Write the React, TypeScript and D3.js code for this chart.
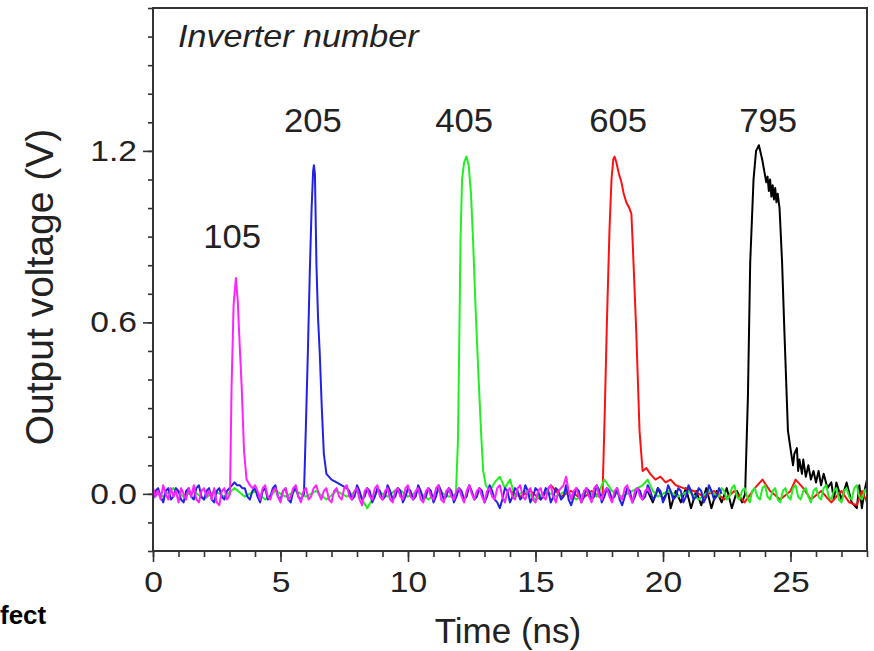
import React, { useEffect, useRef } from "react";
import * as d3 from "d3";

// scope traces, [time (ns), voltage (V)]
const magenta105 = [
  [0,.02],[.1,-.01],[.2,.01],[.3,-.02],[.4,.03],[.5,0],[.6,-.02],[.7,.02],[.8,-.01],[.9,.01],
  [1,-.03],[1.1,.02],[1.2,0],[1.3,-.02],[1.4,.02],[1.5,-.01],[1.6,.03],[1.7,-.02],[1.8,-.03],[1.9,.01],
  [2,.02],[2.1,-.01],[2.2,.01],[2.3,-.02],[2.4,.02],[2.5,-.03],[2.6,-.04],[2.7,.01],[2.8,.02],[2.9,-.02],
  [2.97,-.01],[3.02,0],[3.08,.37],[3.16,.66],[3.25,.755],[3.32,.68],[3.4,.52],[3.48,.37],[3.57,.15],[3.67,.05],
  [3.8,.03],[3.9,.02],[4,.03],[4.1,.01],[4.2,-.02],[4.3,.02],[4.4,.03],[4.5,-.01],[4.6,-.02],[4.7,.01],
  [4.8,.02],[4.9,-.01],[5,-.03],[5.1,.01],[5.2,.02],[5.3,-.02],[5.4,-.01],[5.5,.02],[5.6,.03],[5.7,-.01],
  [5.8,-.03],[5.9,.01],[6,.02],[6.1,-.02],[6.2,-.01],[6.3,.02],[6.4,.03],[6.5,0],[6.6,-.02],[6.7,.01],
  [6.8,.02],[6.9,-.02],[7,-.03],[7.1,.01],[7.2,.02],[7.3,-.01],[7.4,-.02],[7.5,.02],[7.6,.03],[7.7,-.01],
  [7.8,-.02],[7.9,.01],[8,.02],[8.1,-.02],[8.2,-.04],[8.3,.01],[8.4,.02],[8.5,-.01],[8.6,-.02],[8.7,.02],
  [8.8,.03],[8.9,-.01],[9,-.02],[9.1,.01],[9.2,.02],[9.3,-.02],[9.4,-.03],[9.5,.01],[9.6,.02],[9.7,-.01],
  [9.8,-.02],[9.9,.02],[10,.03],[10.1,-.01],[10.2,-.02],[10.3,.01],[10.4,.02],[10.5,-.02],[10.6,-.03],[10.7,.01],
  [10.8,.02],[10.9,-.01],[11,-.02],[11.1,.02],[11.2,.03],[11.3,-.02],[11.4,-.03],[11.5,.01],[11.6,.02],[11.7,-.01],
  [11.8,-.02],[11.9,.01],[12,.02],[12.1,-.01],[12.2,-.03],[12.3,.01],[12.4,.03],[12.5,0],[12.6,-.02],[12.7,.01],
  [12.8,.02],[12.9,-.01],[13,-.03],[13.1,.01],[13.2,.02],[13.3,-.01],[13.4,-.02],[13.5,.02],[13.6,.03],[13.7,-.01],
  [13.8,-.03],[13.9,.01],[14,.02],[14.1,-.01],[14.2,-.02],[14.3,.02],[14.4,.03],[14.5,-.01],[14.6,-.02],[14.7,.01],
  [14.8,.02],[14.9,-.02],[15,-.03],[15.1,.01],[15.2,.02],[15.3,-.01],[15.4,-.02],[15.5,.02],[15.6,.03],[15.7,-.01],
  [15.8,-.03],[15.9,.01],[16,.02],[16.1,.03],[16.2,.06],[16.3,.01],[16.4,-.02],[16.5,.01],[16.6,.02],[16.7,-.01],
  [16.8,-.03],[16.9,.01],[17,.02],[17.1,-.01],[17.2,-.03],[17.3,.02],[17.4,.03],[17.5,-.01],[17.6,-.02],[17.7,.01],
  [17.8,.02],[17.9,-.01],[18,-.03],[18.1,.01],[18.2,.02],[18.3,-.01],[18.4,-.02],[18.5,.02],[18.6,.03],[18.7,-.01],
  [18.8,-.03],[18.9,.01],[19,.02],[19.1,-.01],[19.2,-.02],[19.3,.01],[19.4,.02],[19.5,0]
];

const blue205 = [
  [0,-.02],[.1,.01],[.2,.02],[.3,-.01],[.4,-.03],[.5,.01],[.6,.02],[.7,-.02],[.8,-.01],[.9,.02],
  [1,.01],[1.1,-.02],[1.2,-.03],[1.3,.01],[1.4,.02],[1.5,-.01],[1.6,-.02],[1.7,.02],[1.8,.03],[1.9,-.01],
  [2,-.02],[2.1,.01],[2.2,.02],[2.3,-.02],[2.4,-.03],[2.5,.01],[2.6,.02],[2.7,-.01],[2.8,-.02],[2.9,.01],
  [3,.02],[3.1,.03],[3.2,.04],[3.3,.03],[3.4,.03],[3.5,.02],[3.6,.02],[3.7,-.01],[3.8,-.02],[3.9,.01],
  [4,.02],[4.1,-.01],[4.2,-.03],[4.3,.01],[4.4,.02],[4.5,-.02],[4.6,-.01],[4.7,.02],[4.8,.03],[4.9,-.01],
  [5,-.02],[5.1,.01],[5.2,.02],[5.3,-.02],[5.4,-.03],[5.5,.01],[5.6,.02],[5.7,-.01],[5.8,-.02],[5.92,0],
  [6,.25],[6.08,.52],[6.15,.78],[6.22,1.0],[6.28,1.13],[6.31,1.15],[6.35,1.12],[6.41,.8],[6.47,.62],[6.54,.49],
  [6.62,.3],[6.7,.14],[6.8,.07],[7,.05],[7.2,.04],[7.4,.03],[7.6,.02],[7.7,.01],[7.8,-.02],[7.9,-.01],
  [8,.03],[8.1,.01],[8.2,-.02],[8.3,-.01],[8.4,.02],[8.5,.01],[8.6,-.03],[8.7,-.01],[8.8,.02],[8.9,.01],
  [9,-.02],[9.1,-.01],[9.2,.03],[9.3,.01],[9.4,-.02],[9.5,-.01],[9.6,.02],[9.7,.01],[9.8,-.03],[9.9,-.01],
  [10,.02],[10.1,.01],[10.2,-.02],[10.3,-.01],[10.4,.03],[10.5,.01],[10.6,-.02],[10.7,-.01],[10.8,.02],[10.9,.01],
  [11,-.03],[11.1,-.01],[11.2,.03],[11.3,.01],[11.4,-.02],[11.5,-.01],[11.6,.02],[11.7,.01],[11.8,-.03],[11.9,-.01],
  [12,.02],[12.1,.01],[12.2,-.02],[12.3,-.01],[12.4,.03],[12.5,.01],[12.6,-.02],[12.7,-.01],[12.8,.02],[12.9,.01],
  [13,-.03],[13.1,-.01],[13.2,.03],[13.3,.01],[13.4,-.02],[13.5,-.03],[13.6,-.05],[13.7,-.02],[13.8,.02],[13.9,.01],
  [14,-.03],[14.1,-.01],[14.2,.02],[14.3,.01],[14.4,-.02],[14.5,-.01],[14.6,.03],[14.7,.01],[14.8,-.03],[14.9,-.01],
  [15,.02],[15.1,.01],[15.2,-.02],[15.3,-.01],[15.4,.02],[15.5,.01],[15.6,-.03],[15.7,-.01],[15.8,.02],[15.9,.01],
  [16,-.02],[16.1,-.01],[16.2,.03],[16.3,-.02],[16.4,-.04],[16.5,-.01],[16.6,.02],[16.7,.01],[16.8,-.03],[16.9,-.01],
  [17,.02],[17.1,.01],[17.2,-.02],[17.3,-.01],[17.4,.03],[17.5,.01],[17.6,-.03],[17.7,-.01],[17.8,.02],[17.9,.01],
  [18,-.02],[18.1,-.01],[18.2,.02],[18.3,-.02],[18.4,-.04],[18.5,-.01],[18.6,.02],[18.7,.01],[18.8,-.03],[18.9,-.01],
  [19,.02],[19.1,.01],[19.2,-.02],[19.3,-.01],[19.4,.03],[19.5,.01],[19.6,-.02],[19.7,-.01],[19.8,.02],[19.9,.01],
  [20,-.03],[20.1,-.01],[20.2,.03],[20.3,.01],[20.4,-.02],[20.5,-.01],[20.6,.02],[20.7,.01],[20.8,-.03],[20.9,-.01],
  [21,.03],[21.1,.01],[21.2,-.02],[21.3,-.01],[21.4,.02],[21.5,.01],[21.6,-.03],[21.7,-.01],[21.8,.03],[21.9,.01],
  [22,-.02],[22.1,-.01],[22.2,.02],[22.3,0]
];

const green405 = [
  [0,.01],[.4,-.01],[.8,.02],[1.2,-.01],[1.6,.01],[2,-.02],[2.4,.01],[2.8,-.01],[3.2,.02],[3.6,-.01],
  [4,.01],[4.4,-.02],[4.8,.01],[5.2,-.01],[5.6,.01],[6,-.01],[6.4,.01],[6.8,-.02],[7.2,.01],[7.6,-.01],
  [8,.01],[8.4,-.05],[8.8,.01],[9.2,-.01],[9.6,.02],[10,-.01],[10.4,.01],[10.8,-.02],[11.2,.01],[11.6,-.01],
  [11.88,0],[11.96,.19],[12.02,.6],[12.06,.89],[12.12,1.1],[12.2,1.16],[12.29,1.18],[12.38,1.15],[12.47,1.05],[12.55,.89],
  [12.65,.65],[12.77,.4],[12.88,.19],[12.95,.08],[13.05,.03],[13.2,.01],[13.4,.04],[13.6,.06],[13.8,.02],[14,.05],
  [14.2,-.01],[14.6,.01],[15,-.02],[15.4,.01],[15.8,-.01],[16.2,.01],[16.6,-.02],[17,.01],[17.4,-.01],[17.7,.05],
  [18,.01],[18.4,-.01],[18.8,.01],[19.2,.03],[19.4,.05],[19.6,.01],[19.8,-.01],[20.2,.01],[20.6,-.01],[21,.01],
  [21.4,-.02],[21.8,.01],[22.2,-.01],[22.3,.02],[22.4,.01],[22.5,-.02],[22.6,-.01],[22.7,.02],[22.8,.03],[22.9,-.01],
  [23,-.02],[23.1,.01],[23.2,.02],[23.3,-.01],[23.4,-.03],[23.5,.01],[23.6,.02],[23.7,-.01],[23.8,-.02],[23.9,.02],
  [24,.03],[24.1,-.01],[24.2,-.02],[24.3,.01],[24.4,.02],[24.5,-.02],[24.6,-.03],[24.7,.01],[24.8,.02],[24.9,-.01],
  [25,-.02],[25.1,.02],[25.2,.03],[25.3,-.01],[25.4,-.02],[25.5,.01],[25.6,.02],[25.7,-.01],[25.8,-.03],[25.9,.01],
  [26,.02],[26.1,-.01],[26.2,-.02],[26.3,.02],[26.4,.03],[26.5,-.01],[26.6,-.02],[26.7,.01],[26.8,.02],[26.9,-.02],
  [27,-.03],[27.1,.01],[27.2,.02],[27.3,-.01],[27.4,-.02],[27.5,.02],[27.6,.03],[27.7,-.01],[27.8,-.02],[27.9,.01],
  [28,.02]
];

const red605 = [
  [14,.01],[14.4,-.01],[14.8,.01],[15.2,-.02],[15.6,.03],[16,-.01],[16.4,.01],[16.8,-.02],[17.2,.01],[17.5,-.01],
  [17.63,0],[17.72,.3],[17.8,.6],[17.9,.92],[17.98,1.1],[18.05,1.17],[18.1,1.18],[18.17,1.16],[18.27,1.12],[18.37,1.09],
  [18.46,1.05],[18.56,1.02],[18.68,1.0],[18.76,.98],[18.82,.86],[18.95,.57],[19.08,.22],[19.2,.08],[19.35,.09],[19.5,.07],
  [19.7,.05],[19.9,.06],[20.1,.04],[20.3,.05],[20.5,.03],[20.8,.02],[21.2,.01],[21.6,-.01],[22,.01],[22.4,-.02],
  [22.8,.01],[23.2,-.03],[23.6,.02],[23.9,.05],[24.2,.01],[24.6,-.02],[25,.01],[25.2,.05],[25.5,.02],[25.8,-.02],
  [26.2,.01],[26.6,-.03],[27,.01],[27.3,-.03],[27.6,-.04],[27.8,.01],[28,-.03]
];

const black795 = [
  [19.4,.01],[19.6,-.03],[19.8,.02],[20,-.02],[20.2,.01],[20.3,-.05],[20.5,.01],[20.7,-.03],[20.9,.02],[21.1,-.05],
  [21.3,.01],[21.5,-.04],[21.7,.02],[21.9,-.05],[22.1,.01],[22.3,-.03],[22.5,.02],[22.7,-.05],[22.9,.01],[23.1,-.03],
  [23.22,0],[23.33,.34],[23.42,.81],[23.55,1.1],[23.65,1.2],[23.76,1.22],[23.89,1.17],[24.05,1.09],[24.1,1.11],[24.15,1.06],
  [24.2,1.1],[24.25,1.04],[24.3,1.08],[24.35,1.03],[24.4,1.07],[24.45,1.02],[24.5,1.05],[24.57,1.0],[24.67,.81],[24.76,.57],
  [24.9,.22],[25.03,.14],[25.1,.1],[25.15,.14],[25.25,.16],[25.3,.08],[25.35,.12],[25.45,.07],[25.5,.12],[25.6,.06],
  [25.7,.1],[25.8,.05],[25.9,.08],[26.0,.04],[26.1,.08],[26.2,.03],[26.3,.07],[26.45,.02],[26.6,.04],[26.7,-.02],
  [26.8,.04],[27,-.02],[27.2,.04],[27.4,-.03],[27.6,-.05],[27.7,.03],[27.8,-.05],[27.9,.01],[28,.05]
];

// bottom layer first
const traces = [
  { name: "795", color: "#000000", data: black795 },
  { name: "605", color: "#ff1010", data: red605 },
  { name: "405", color: "#22ee22", data: green405 },
  { name: "205", color: "#2222e6", data: blue205 },
  { name: "105", color: "#ff22ff", data: magenta105 }
];

const peakLabels = [
  { text: "105", t: 3.1, v: 0.86 },
  { text: "205", t: 6.27, v: 1.267 },
  { text: "405", t: 12.2, v: 1.267 },
  { text: "605", t: 18.24, v: 1.267 },
  { text: "795", t: 24.12, v: 1.267 }
];

const xMajor = [0, 5, 10, 15, 20, 25];
const yMajor = [0, 0.6, 1.2];

const W = 874;
const H = 651;
const margin = { top: 8, right: 7, bottom: 100, left: 153 };
const font = "'Liberation Sans', Arial, sans-serif";
const stretch = 1.12; // the figure's lettering is a little wide

export default function App() {
  const ref = useRef<SVGSVGElement>(null);

  useEffect(() => {
    document.body.style.margin = "0";
    const svg = d3.select(ref.current);
    svg.selectAll("*").remove();

    const width = W - margin.left - margin.right;
    const height = H - margin.top - margin.bottom;

    const x = d3.scaleLinear().domain([0, 28]).range([0, width]);
    const y = d3.scaleLinear().domain([-0.2, 1.7]).range([height, 0]);

    const g = svg
      .append("g")
      .attr("transform", `translate(${margin.left},${margin.top})`);

    const line = d3
      .line<number[]>()
      .x(d => x(d[0]))
      .y(d => y(d[1]));

    traces.forEach(tr => {
      g.append("path")
        .datum(tr.data)
        .attr("fill", "none")
        .attr("stroke", tr.color)
        .attr("stroke-width", 2)
        .attr("stroke-linejoin", "round")
        .attr("d", line);
    });

    // minor ticks
    g.append("g")
      .attr("transform", `translate(0,${height})`)
      .call(d3.axisBottom(x).tickValues(d3.range(0, 29, 1)).tickSize(6).tickFormat(() => ""))
      .call(a => a.select(".domain").remove());
    g.append("g")
      .call(d3.axisLeft(y).tickValues(d3.range(-2, 18, 1).map(d => d / 10)).tickSize(5).tickFormat(() => ""))
      .call(a => a.select(".domain").remove());

    // major ticks with labels
    const xAxis = g
      .append("g")
      .attr("transform", `translate(0,${height})`)
      .call(d3.axisBottom(x).tickValues(xMajor).tickSize(11).tickPadding(9).tickFormat(d3.format("d")));
    xAxis.select(".domain").remove();
    xAxis.selectAll("text")
      .attr("font-size", 30)
      .attr("font-family", font)
      .attr("fill", "#222")
      .attr("transform", `scale(${stretch},1)`);

    const yAxis = g
      .append("g")
      .call(d3.axisLeft(y).tickValues(yMajor).tickSize(10).tickPadding(6).tickFormat(d3.format(".1f")));
    yAxis.select(".domain").remove();
    yAxis.selectAll("text")
      .attr("font-size", 30)
      .attr("font-family", font)
      .attr("fill", "#222")
      .attr("x", 0)
      .attr("transform", `translate(-16,0) scale(${stretch},1)`);

    g.selectAll(".tick line").attr("stroke", "#333").attr("stroke-width", 1.6);

    // frame
    g.append("rect")
      .attr("width", width)
      .attr("height", height)
      .attr("fill", "none")
      .attr("stroke", "#333")
      .attr("stroke-width", 2);

    g.selectAll(".peak")
      .data(peakLabels)
      .enter()
      .append("text")
      .attr("transform", d => `translate(${x(d.t)},${y(d.v)}) scale(1.05,1)`)
      .attr("text-anchor", "middle")
      .attr("font-size", 33)
      .attr("font-family", font)
      .attr("fill", "#222")
      .text(d => d.text);

    g.append("text")
      .attr("transform", `translate(${x(0.98)},${y(1.563)}) scale(1.1,1)`)
      .attr("font-size", 31)
      .attr("font-style", "italic")
      .attr("font-family", font)
      .attr("fill", "#222")
      .text("Inverter number");

    svg.append("text")
      .attr("x", margin.left + width / 2 - 2)
      .attr("y", 643)
      .attr("text-anchor", "middle")
      .attr("font-size", 35)
      .attr("font-family", font)
      .attr("fill", "#222")
      .text("Time (ns)");

    svg.append("text")
      .attr("transform", "translate(53,287) rotate(-90)")
      .attr("text-anchor", "middle")
      .attr("font-size", 39)
      .attr("font-family", font)
      .attr("fill", "#222")
      .text("Output voltage (V)");

    svg.append("text")
      .attr("x", 0)
      .attr("y", 624)
      .attr("font-size", 26)
      .attr("font-weight", "bold")
      .attr("font-family", font)
      .attr("fill", "#000")
      .text("fect");
  }, []);

  return <svg ref={ref} width={W} height={H} style={{ display: "block" }} />;
}
